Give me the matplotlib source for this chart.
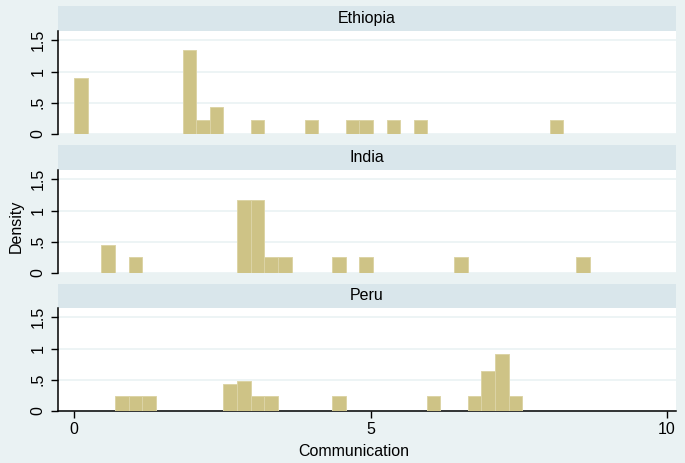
import matplotlib
matplotlib.use("Agg")
import matplotlib.pyplot as plt

plt.rcParams['font.family'] = ['Liberation Sans', 'DejaVu Sans']

# histogram data (bar left edges and densities)
bin_width = 0.229
countries = ["Ethiopia", "India", "Peru"]

eth_left = [0.0, 1.83, 2.06, 2.29, 2.98, 3.89, 4.58, 4.81, 5.27, 5.73, 8.02]
eth_dens = [0.89, 1.34, 0.23, 0.43, 0.23, 0.23, 0.23, 0.23, 0.23, 0.23, 0.23]

ind_left = [0.46, 0.92, 2.75, 2.98, 3.21, 3.44, 4.35, 4.81, 6.41, 8.47]
ind_dens = [0.455, 0.256, 1.176, 1.176, 0.256, 0.256, 0.256, 0.256, 0.256, 0.256]

peru_left = [0.69, 0.92, 1.15, 2.52, 2.75, 2.98, 3.21, 4.35, 5.95, 6.64, 6.87, 7.10, 7.33]
peru_dens = [0.24, 0.24, 0.24, 0.44, 0.48, 0.24, 0.24, 0.24, 0.24, 0.24, 0.645, 0.91, 0.24]

lefts = [eth_left, ind_left, peru_left]
dens = [eth_dens, ind_dens, peru_dens]

xticks = [0, 5, 10]
yticks = [0, 0.5, 1, 1.5]
ytick_labels = ["0", ".5", "1", "1.5"]

bg = '#EAF2F3'
strip_col = '#D9E6EB'
bar_col = '#CEC386'
bar_edge = '#DCD4A6'

W, H = 685, 463
fig = plt.figure(figsize=(W / 100, H / 100), dpi=100, facecolor=bg)

x0, x1 = 58, 676
# (strip top, strip bottom / plot top, plot bottom) in pixels
rows = [(6, 31, 134), (145, 170, 273), (284, 308, 411)]

for i, (name, (st, pt, pb)) in enumerate(zip(countries, rows)):
    # strip with the country name
    sax = fig.add_axes([x0 / W, 1 - pt / H, (x1 - x0) / W, (pt - st) / H])
    sax.set_facecolor(strip_col)
    sax.set_xticks([])
    sax.set_yticks([])
    for s in sax.spines.values():
        s.set_visible(False)
    sax.text(0.5, 0.5, name, ha='center', va='center', fontsize=11.5,
             transform=sax.transAxes)

    ax = fig.add_axes([x0 / W, 1 - pb / H, (x1 - x0) / W, (pb - pt) / H])
    ax.set_facecolor('white')
    ax.bar(lefts[i], dens[i], width=bin_width, align='edge',
           color=bar_col, edgecolor=bar_edge, linewidth=0.7, zorder=3)
    ax.set_xlim(-0.27, 10.15)
    ax.set_ylim(0, 1.65)
    ax.set_yticks(yticks)
    ax.set_yticklabels(ytick_labels, rotation=90, va='center')
    ax.yaxis.grid(True, color=bg, linewidth=1.2, zorder=1)
    ax.tick_params(axis='y', length=5, width=1, pad=4, labelsize=11.5)
    ax.spines['top'].set_visible(False)
    ax.spines['right'].set_visible(False)
    ax.spines['left'].set_linewidth(1.1)
    if i < 2:
        ax.spines['bottom'].set_visible(False)
        ax.set_xticks([])
    else:
        ax.spines['bottom'].set_linewidth(1.1)
        ax.set_xticks(xticks)
        ax.tick_params(axis='x', length=5, width=1, pad=3, labelsize=11.5)

fig.text(16 / W, 1 - 226 / H, "Density", rotation=90, ha='center',
         va='center', fontsize=11.5)
fig.text(354 / W, 1 - 452 / H, "Communication", ha='center', va='center',
         fontsize=11.5)

fig.savefig("out.png", dpi=100, facecolor=bg)
